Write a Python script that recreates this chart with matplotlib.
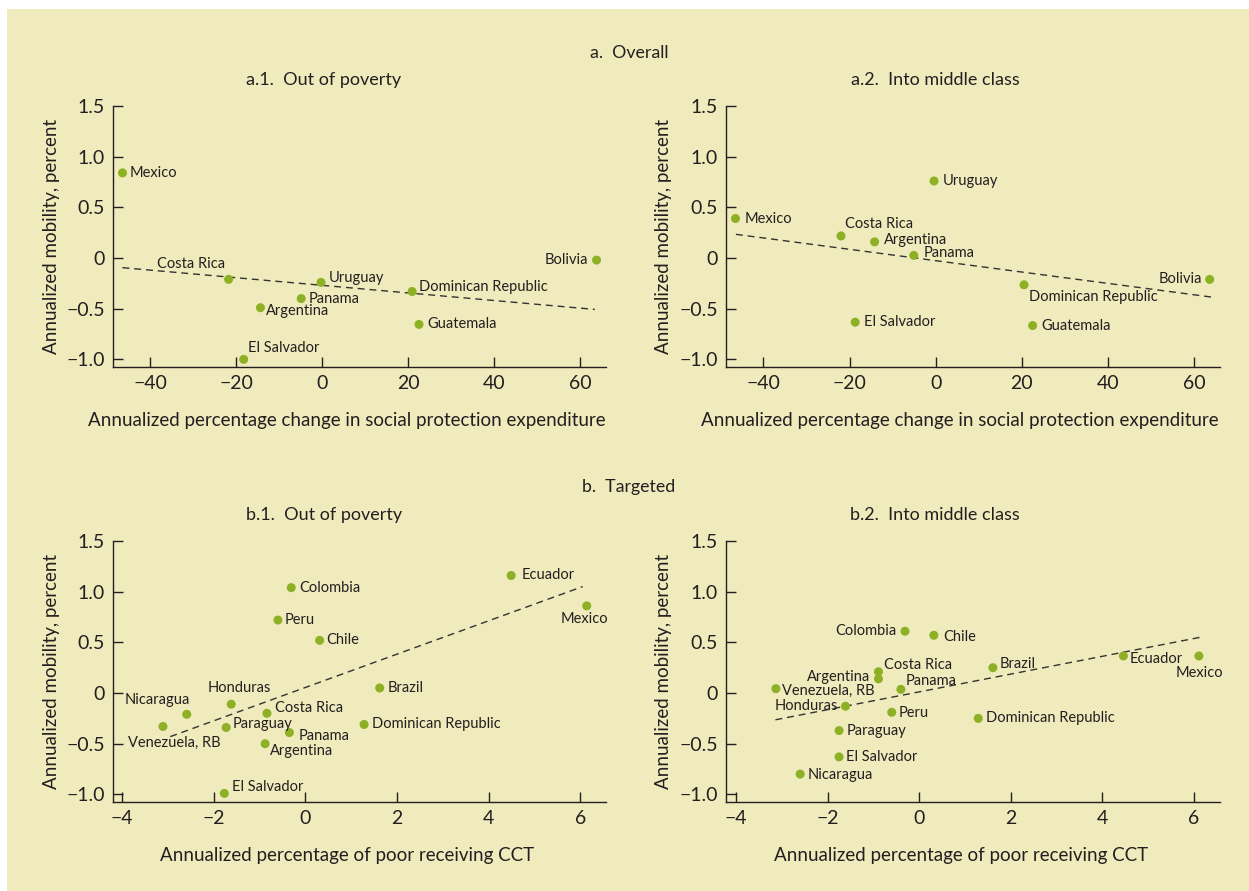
import numpy as np
import matplotlib
matplotlib.use('Agg')
import matplotlib.pyplot as plt
from matplotlib.patches import Rectangle

plt.rcParams['font.family'] = ['Lato', 'DejaVu Sans']

# ---- data ----
# a. Overall: x = annualized % change in social protection expenditure
a_countries = ['Mexico', 'Costa Rica', 'Uruguay', 'Panama', 'Argentina',
               'El Salvador', 'Dominican Republic', 'Guatemala', 'Bolivia']
a1_x = [-46.5, -21.8, -0.3, -4.9, -14.4, -18.3, 20.9, 22.5, 63.8]
a1_y = [0.84, -0.21, -0.24, -0.40, -0.49, -1.00, -0.33, -0.655, -0.02]
a1_trend_x = [-46.5, 63.4]
a1_trend_y = [-0.095, -0.507]

a2_x = [-46.5, -22.0, -0.4, -5.1, -14.2, -18.7, 20.5, 22.5, 63.6]
a2_y = [0.39, 0.218, 0.76, 0.026, 0.16, -0.633, -0.264, -0.666, -0.211]
a2_trend_x = [-46.4, 64.2]
a2_trend_y = [0.234, -0.386]

# b. Targeted: x = annualized % of poor receiving CCT
b_countries = ['Ecuador', 'Colombia', 'Peru', 'Chile', 'Mexico', 'Brazil',
               'Honduras', 'Nicaragua', 'Venezuela, RB', 'Costa Rica',
               'Paraguay', 'Panama', 'Argentina', 'Dominican Republic',
               'El Salvador']
b1_x = [4.49, -0.31, -0.60, 0.31, 6.14, 1.62, -1.62, -2.59, -3.11, -0.84,
        -1.73, -0.35, -0.88, 1.28, -1.77]
b1_y = [1.16, 1.04, 0.72, 0.52, 0.86, 0.05, -0.11, -0.21, -0.33, -0.20,
        -0.34, -0.39, -0.50, -0.31, -0.99]
b1_trend_x = [-2.95, 6.05]
b1_trend_y = [-0.43, 1.05]

b2_x = [4.46, -0.31, -0.60, 0.32, 6.11, 1.61, -1.61, -2.60, -3.13, -0.89,
        -1.75, -0.40, -0.89, 1.29, -1.75]
b2_y = [0.366, 0.61, -0.19, 0.57, 0.366, 0.25, -0.13, -0.80, 0.043, 0.21,
        -0.37, 0.036, 0.14, -0.25, -0.63]
b2_trend_x = [-3.14, 6.15]
b2_trend_y = [-0.264, 0.551]

a_xticks = [-40, -20, 0, 20, 40, 60]
b_xticks = [-4, -2, 0, 2, 4, 6]
yticks = [-1.0, -0.5, 0, 0.5, 1.0, 1.5]
ytick_labels = ['\u22121.0', '\u22120.5', '0', '0.5', '1.0', '1.5']

# label placement (offset in pixels, alignment) -- style only
a1_lab = [(7, 0, 'left'), (-3, 15, 'right'), (8, 4, 'left'), (7, 0, 'left'),
          (6, -3, 'left'), (4, 11, 'left'), (7, 4, 'left'), (8, 0, 'left'),
          (-8, 0, 'right')]
a2_lab = [(9, 0, 'left'), (4, 12, 'left'), (9, 0, 'left'), (10, 2, 'left'),
          (9, 2, 'left'), (9, 0, 'left'), (5, -12, 'left'), (9, 0, 'left'),
          (-8, 0, 'right')]
b1_lab = [(10, 0, 'left'), (8, 0, 'left'), (7, 0, 'left'), (7, 0, 'left'),
          (-2, -13, 'center'), (8, 0, 'left'), (8, 16, 'center'),
          (3, 14, 'right'), (11, -16, 'center'), (8, 5, 'left'),
          (6, 4, 'left'), (9, -3, 'left'), (5, -7, 'left'), (8, 0, 'left'),
          (8, 6, 'left')]
b2_lab = [(6, -3, 'left'), (-9, 0, 'right'), (7, -1, 'left'), (9, -2, 'left'),
          (0, -17, 'center'), (7, 4, 'left'), (-7, 0, 'right'),
          (7, -1, 'left'), (6, -2, 'left'), (6, 7, 'left'), (8, 0, 'left'),
          (5, 8, 'left'), (-8, 2, 'right'), (8, 0, 'left'), (7, 0, 'left')]

BG = '#EFEBBC'
DOT = '#8DB024'
INK = '#231F20'

W, H = 1249, 891
fig = plt.figure(figsize=(W / 100, H / 100), dpi=100, facecolor='white')
fig.patches.append(Rectangle((7 / W, 0), 1 - 7 / W, 1 - 9 / H,
                             transform=fig.transFigure, facecolor=BG,
                             edgecolor='none', zorder=-10))


def px_axes(left, right, top, bottom):
    return fig.add_axes([left / W, 1 - bottom / H, (right - left) / W,
                         (bottom - top) / H])


def panel(ax, xs, ys, names, labs, tx, ty, xlim, xticks):
    ax.set_facecolor('none')
    ax.plot(tx, ty, color='#333333', lw=1.0, dashes=(5, 3.5), zorder=2)
    ax.scatter(xs, ys, s=42, color=DOT, edgecolor='none', zorder=3)
    for x, y, n, (dx, dy, ha) in zip(xs, ys, names, labs):
        ax.annotate(n, (x, y), xytext=(dx, dy), textcoords='offset pixels',
                    ha=ha, va='center', fontsize=10.5, color=INK, zorder=4)
    ax.set_xlim(*xlim)
    ax.set_ylim(-1.075, 1.5)
    ax.set_xticks(xticks)
    ax.set_xticklabels([str(t).replace('-', '\u2212') for t in xticks])
    ax.set_yticks(yticks)
    ax.set_yticklabels(ytick_labels)
    for s in ['top', 'right']:
        ax.spines[s].set_visible(False)
    for s in ['left', 'bottom']:
        ax.spines[s].set_color(INK)
        ax.spines[s].set_linewidth(1.0)
    ax.tick_params(direction='in', length=7, width=1.0, colors=INK,
                   labelsize=14, pad=6)


ax1 = px_axes(113, 606, 106, 367)
panel(ax1, a1_x, a1_y, a_countries, a1_lab, a1_trend_x, a1_trend_y,
      (-48.7, 66), a_xticks)
ax2 = px_axes(726, 1220, 106, 367)
panel(ax2, a2_x, a2_y, a_countries, a2_lab, a2_trend_x, a2_trend_y,
      (-48.7, 66), a_xticks)
ax3 = px_axes(113, 606, 541, 802)
panel(ax3, b1_x, b1_y, b_countries, b1_lab, b1_trend_x, b1_trend_y,
      (-4.2, 6.56), b_xticks)
ax4 = px_axes(726, 1220, 541, 802)
panel(ax4, b2_x, b2_y, b_countries, b2_lab, b2_trend_x, b2_trend_y,
      (-4.22, 6.57), b_xticks)


def ftext(x, y, s, **kw):
    fig.text(x / W, 1 - y / H, s, color=INK, **kw)


ftext(629, 53, 'a.  Overall', ha='center', va='center', fontsize=12.8)
ftext(629, 487, 'b.  Targeted', ha='center', va='center', fontsize=12.8)
ftext(324, 80, 'a.1.  Out of poverty', ha='center', va='center', fontsize=13)
ftext(935, 80, 'a.2.  Into middle class', ha='center', va='center', fontsize=13)
ftext(324, 515, 'b.1.  Out of poverty', ha='center', va='center', fontsize=13)
ftext(935, 515, 'b.2.  Into middle class', ha='center', va='center', fontsize=13)

xl_a = 'Annualized percentage change in social protection expenditure'
xl_b = 'Annualized percentage of poor receiving CCT'
ftext(347, 421, xl_a, ha='center', va='center', fontsize=13.5)
ftext(960, 421, xl_a, ha='center', va='center', fontsize=13.5)
ftext(347, 856, xl_b, ha='center', va='center', fontsize=13.5)
ftext(961, 856, xl_b, ha='center', va='center', fontsize=13.5)

yl = 'Annualized mobility, percent'
for x, y in [(51, 236), (664, 236), (51, 671), (664, 671)]:
    ftext(x, y, yl, ha='center', va='center', rotation=90, fontsize=13.5)

fig.savefig('out.png', dpi=100, facecolor='white')
